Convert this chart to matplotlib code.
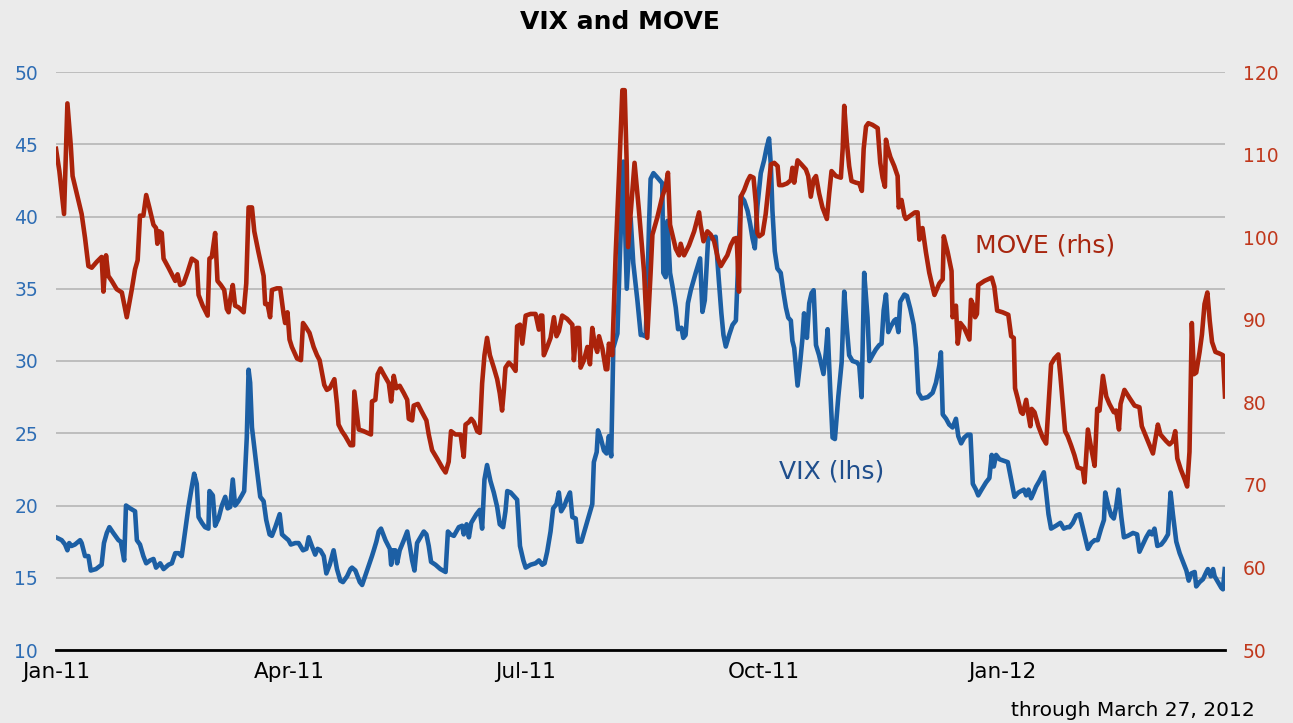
import numpy as np
import matplotlib
matplotlib.use('Agg')
import matplotlib.pyplot as plt
import matplotlib.dates as mdates
from datetime import datetime

plt.rcParams['font.family'] = ['DejaVu Sans']

# days since 2011-01-01
vix_days = [
    0.0, 2.2, 3.5, 4.4, 5.1, 6.0, 7.3, 9.3, 9.9, 11.2, 12.5, 13.4, 15.4, 17.6, 18.5,
    19.6, 20.6, 22.1, 24.1, 25.0, 26.3, 27.0, 28.6, 30.5, 31.2, 32.4, 33.7, 34.8, 36.3, 37.6,
    38.6, 40.2, 41.5, 43.4, 44.7, 46.0, 47.3, 48.5, 49.8, 51.1, 52.4, 53.3, 54.3, 55.0, 56.3,
    57.5, 58.8, 59.2, 60.5, 61.4, 62.7, 64.0, 65.3, 66.2, 67.2, 68.2, 69.1, 70.4, 71.7, 72.6,
    73.6, 74.3, 74.9, 75.6, 76.5, 77.5, 78.8, 80.1, 81.1, 82.4, 83.3, 84.6, 86.3, 87.2, 88.4,
    89.7, 90.6, 92.3, 93.6, 95.3, 96.6, 97.5, 98.7, 100.0, 100.9, 102.0, 103.3, 104.3, 105.6, 107.1,
    108.4, 109.7, 110.7, 112.3, 113.6,
    114.2, 115.5, 117.2, 118.1, 120.0, 121.9, 122.6, 123.6, 124.5, 125.4, 127.1, 128.8, 129.3, 130.0, 130.9,
    131.6, 132.6, 134.2, 135.5, 136.5, 137.4, 138.3, 139.3, 140.6, 141.9, 142.9, 143.8, 144.7, 146.4, 148.3,
    150.3, 151.2, 152.2, 153.5, 155.4, 156.7, 157.3, 158.4, 159.3, 160.2, 161.2, 162.2, 163.5, 164.4, 165.3,
    166.3, 167.6, 168.9, 170.2, 171.2, 172.5, 173.4, 174.1, 175.4, 177.9, 179.0, 180.3, 181.2, 183.1, 185.0,
    186.3, 187.6, 188.5, 189.5, 190.8, 191.8, 193.1, 194.0, 194.9, 196.2, 197.0, 198.3, 199.2, 200.5, 201.4,
    202.7, 204.3, 205.6, 206.9, 207.5, 208.6, 209.1, 210.1, 211.4, 212.4, 213.3, 214.2, 215.0, 216.6, 217.6,
    218.9, 220.2, 221.7, 222.7, 224.3, 225.6,
    226.2, 227.5, 228.1, 228.8, 229.4, 230.5, 232.0, 233.9, 234.3, 235.2, 235.9, 236.9, 237.8, 239.1, 240.0,
    241.3, 242.0, 242.9, 243.8, 244.9, 246.8, 248.5, 249.4, 250.3, 251.1, 251.6, 253.2, 254.5, 255.8, 256.7,
    257.5, 258.4, 259.7, 261.0, 262.3, 263.2, 264.2, 265.5, 266.8, 267.8, 268.7, 269.6, 270.6, 271.9, 273.2,
    274.2, 275.1, 275.8, 276.4, 277.3, 278.3, 279.6, 280.7, 281.6, 282.5, 283.5, 284.1, 284.8, 286.1, 287.1,
    288.0, 288.6, 289.7, 290.6, 291.5, 292.3, 293.2, 294.4, 295.3, 296.1, 297.0, 297.7, 298.7, 299.6, 300.5,
    301.8, 303.1, 304.1, 305.1, 306.0, 307.3, 309.0, 309.9, 310.8, 311.8, 313.1, 313.8, 315.0, 316.3, 317.6,
    318.5, 319.3, 320.2, 321.1, 322.1, 323.4, 324.1, 325.0, 325.7, 327.3, 328.3, 329.6, 330.9, 331.8, 332.7,
    334.0,
    336.3, 338.2, 339.5, 340.8, 341.4, 342.1, 343.4, 344.6, 345.9, 347.2, 348.1, 349.2, 350.4, 351.7, 352.8,
    353.7, 354.9, 355.8, 357.1, 358.8, 360.1, 361.0, 361.8, 362.7, 364.0, 365.6, 367.2, 368.5, 369.8, 371.3,
    372.3, 373.4, 374.3, 375.2, 376.2, 377.2, 378.1, 379.4, 381.1, 382.0, 382.9, 383.9, 385.8, 387.5, 388.8,
    390.1, 391.0, 392.3, 393.6, 394.9, 396.1, 397.0, 398.1, 399.4, 400.7, 401.9, 403.2, 404.3, 404.8, 405.8,
    407.1, 408.1, 409.0, 409.9, 411.0, 412.0, 413.5, 415.5, 417.1, 418.0, 419.3, 420.6, 421.9, 422.8, 423.8,
    424.9, 426.4, 427.7, 429.0, 430.0, 430.9, 432.2, 433.5, 434.8, 436.1, 437.0, 438.0, 439.3, 439.9, 441.2,
    442.5, 443.8, 444.4, 445.5, 446.4, 447.0, 448.3, 449.6, 450.2, 450.9,
]
vix = [
    17.8, 17.6, 17.3, 16.9, 17.4, 17.2, 17.3, 17.6, 17.4, 16.5, 16.5, 15.5, 15.6, 15.9, 17.4,
    18.1, 18.5, 18.1, 17.6, 17.5, 16.2, 20.0, 19.8, 19.6, 17.6, 17.3, 16.5, 16.0, 16.2, 16.3,
    15.7, 16.0, 15.6, 15.9, 16.0, 16.7, 16.7, 16.5, 18.2, 19.9, 21.3, 22.2, 21.5, 19.2, 18.8,
    18.5, 18.4, 21.0, 20.7, 18.6, 19.1, 20.0, 20.6, 19.8, 19.9, 21.8, 20.0, 20.3, 20.7, 21.0,
    24.7, 29.4, 28.5, 25.4, 24.0, 22.5, 20.6, 20.3, 19.0, 18.0, 17.9, 18.5, 19.4, 18.0, 17.8,
    17.6, 17.3, 17.4, 17.4, 16.9, 17.0, 17.8, 17.2, 16.6, 17.0, 16.9, 16.5, 15.3, 15.9, 16.9,
    15.6, 14.8, 14.7, 15.1, 15.6,
    15.7, 15.5, 14.7, 14.5, 15.5, 16.5, 16.9, 17.5, 18.2, 18.4, 17.6, 17.0, 15.9, 16.9, 16.9,
    16.0, 16.9, 17.6, 18.2, 17.2, 16.2, 15.5, 17.4, 17.8, 18.2, 18.0, 17.2, 16.1, 15.9, 15.6,
    15.4, 18.2, 18.0, 17.9, 18.5, 18.6, 18.0, 18.7, 17.8, 18.8, 19.1, 19.4, 19.7, 18.4, 21.8,
    22.8, 21.7, 20.9, 19.9, 18.7, 18.5, 19.6, 21.0, 20.9, 20.4, 17.2, 16.2, 15.7, 15.9, 16.0,
    16.2, 15.9, 16.0, 16.8, 18.2, 19.8, 20.1, 20.9, 19.6, 20.0, 20.4, 20.9, 19.2, 19.1, 17.5,
    17.5, 18.5, 19.3, 20.1, 23.0, 23.7, 25.2, 24.7, 23.8, 23.6, 24.8, 23.4, 30.9, 31.9, 37.6,
    43.8, 35.0, 39.9, 36.8, 34.2, 31.8,
    31.8, 31.7, 34.7, 39.5, 42.6, 43.0, 42.7, 42.3, 36.1, 35.8, 39.7, 36.1, 35.2, 33.7, 32.2,
    32.3, 31.6, 31.8, 34.0, 34.9, 36.1, 37.1, 33.4, 34.2, 36.8, 38.5, 38.5, 38.6, 35.4, 33.3,
    31.8, 31.0, 31.8, 32.5, 32.8, 36.8, 41.4, 41.1, 40.4, 39.5, 38.5, 37.8, 40.7, 43.0, 43.9,
    44.8, 45.4, 43.5, 40.4, 37.6, 36.4, 36.1, 34.7, 33.7, 33.0, 32.8, 31.4, 30.9, 28.3, 29.9,
    31.6, 33.3, 31.6, 34.0, 34.7, 34.9, 31.1, 30.4, 29.7, 29.1, 30.6, 32.2, 28.0, 24.7, 24.6,
    27.5, 29.9, 34.8, 32.3, 30.4, 30.0, 29.9, 29.7, 27.5, 36.1, 33.0, 30.0, 30.4, 30.8, 31.1,
    31.2, 33.5, 34.6, 32.0, 32.4, 32.8, 32.9, 32.0, 34.1, 34.6, 34.5, 33.6, 32.5, 30.9, 27.8,
    27.4,
    27.5, 27.8, 28.5, 29.7, 30.6, 26.3, 26.0, 25.6, 25.4, 26.0, 24.8, 24.3, 24.7, 24.9, 24.9,
    21.5, 21.1, 20.7, 21.1, 21.6, 21.9, 23.5, 22.7, 23.5, 23.2, 23.1, 23.0, 21.8, 20.6, 20.9,
    21.0, 21.1, 20.7, 21.1, 20.5, 20.9, 21.3, 21.7, 22.3, 20.9, 19.4, 18.4, 18.6, 18.8, 18.4,
    18.5, 18.5, 18.8, 19.3, 19.4, 18.5, 17.8, 17.0, 17.4, 17.6, 17.6, 18.4, 19.0, 20.9, 20.1,
    19.3, 19.1, 19.9, 21.1, 19.2, 17.8, 17.9, 18.1, 18.0, 16.8, 17.3, 17.8, 18.2, 18.0, 18.4,
    17.2, 17.3, 17.6, 18.0, 20.9, 19.4, 17.5, 16.7, 16.1, 15.5, 14.8, 15.3, 15.4, 14.4, 14.7,
    14.9, 15.4, 15.6, 15.1, 15.6, 15.1, 14.7, 14.3, 14.2, 15.6,
]

move_days = [
    0.0, 1.3, 3.1, 4.4, 5.7, 6.4, 8.0, 9.9, 11.2, 12.5, 13.8, 15.7, 17.6, 18.3, 19.3,
    20.2, 21.5, 23.4, 25.4, 27.3, 29.2, 30.5, 31.5, 32.4, 33.7, 34.8, 36.0, 37.6, 38.6, 39.1,
    39.9, 40.8, 41.5, 43.4, 44.7, 46.0, 46.9, 47.9, 49.2, 50.7, 52.4, 54.3, 55.0, 56.6, 58.5,
    59.2, 60.1, 61.4, 62.3, 63.6, 64.9, 65.9, 66.6, 67.2, 68.2, 69.1, 70.4, 72.4, 73.4, 74.3,
    75.6, 76.5, 78.1, 80.1, 80.7, 81.6, 82.6, 83.3, 85.2, 86.5, 87.8, 88.4, 89.3, 90.1, 91.0,
    93.0, 94.5, 95.3, 96.2, 97.8, 99.4, 100.7, 101.7, 102.6, 103.5, 104.5, 105.6, 107.4, 108.4, 109.0,
    110.3, 111.6, 113.6,
    114.6, 115.1, 116.8, 118.7, 121.5, 121.9, 123.2, 124.1, 125.2, 126.4, 128.4, 129.3, 130.3, 131.3, 132.6,
    134.2, 135.5, 136.1, 137.4, 138.0, 139.6, 141.2, 142.9, 143.8, 145.1, 147.0, 149.0, 150.3, 151.5, 152.4,
    154.1, 156.1, 157.3, 158.0, 159.3, 160.2, 161.2, 162.5, 163.5, 164.4, 165.3, 166.3, 167.4, 168.9, 170.2,
    171.2, 172.1, 172.8, 173.4, 174.7, 176.0, 177.3, 177.9, 179.0, 179.9, 181.2, 183.1, 185.0, 186.3, 187.0,
    187.6, 188.2, 189.5, 190.8, 192.1, 193.1, 194.0, 195.3, 197.2, 199.2, 199.8, 200.9, 201.8, 202.4, 203.7,
    205.0, 206.0, 206.9, 207.8, 208.8, 209.5, 210.8, 212.1, 212.7, 213.3, 214.6, 215.9, 217.2, 218.5, 219.4,
    220.2, 220.7,
    223.2, 224.9, 226.9, 228.1, 229.4, 230.1, 232.0, 233.9, 235.2, 236.1, 236.9, 237.8, 239.1, 240.4, 241.0,
    242.3, 244.2, 246.2, 248.1, 248.7, 249.8, 251.3, 252.6, 253.9, 255.4, 256.5, 257.8, 259.0, 260.3, 261.6,
    262.6, 263.5, 264.2, 265.5, 266.8, 267.8, 269.1, 270.0, 270.6, 271.3, 272.6, 273.8, 274.7, 275.8, 277.1,
    278.4, 279.0, 280.3, 282.0, 283.5, 284.1, 284.8, 286.1, 287.6, 289.3, 290.2, 291.2, 292.3, 293.2, 294.4,
    295.7, 297.4, 298.3, 299.2, 300.9, 302.8, 303.5, 304.1, 305.1, 306.0, 306.9, 308.6, 309.9, 310.9, 311.6,
    312.5, 313.4, 315.0, 317.0, 318.0, 318.9, 319.8, 320.2, 320.8, 321.9, 323.4, 324.7, 325.1, 326.2, 327.3,
    327.9, 329.6, 331.4, 332.4, 333.1,
    334.3, 335.6, 336.9, 338.9, 340.8, 342.1, 342.5, 344.0, 345.5, 345.9, 347.2, 347.9, 348.9, 350.4, 352.4,
    353.0, 353.7, 354.6, 355.3, 355.8, 358.2, 361.0, 362.0, 363.1, 365.2, 367.4, 368.5, 369.5, 370.0, 371.0,
    372.3, 373.0, 374.3, 375.2, 375.9, 376.4, 377.5, 379.0, 380.7, 382.0, 383.3, 383.9, 385.2, 386.7, 387.5,
    388.4, 389.3, 390.3, 391.6, 392.9, 394.2, 396.1, 396.8, 398.1, 399.4, 400.7, 401.7, 402.6, 403.9, 405.2,
    406.4, 408.1, 409.0, 410.1, 410.7, 412.2, 414.2, 416.1, 418.0, 418.9, 420.2, 421.9, 423.2, 425.1, 426.1,
    428.3, 429.6, 430.9, 431.8, 432.6, 433.9, 435.4, 436.4, 437.3, 438.2, 439.0, 439.9, 441.2, 442.1, 443.1,
    444.2, 445.1, 446.0, 447.3, 448.9, 450.2, 451.0,
]
move = [
    110.7, 108.0, 102.8, 116.2, 111.1, 107.4, 105.3, 102.8, 99.9, 96.5, 96.3, 97.0, 97.6, 93.4, 97.8,
    95.3, 94.7, 93.7, 93.3, 90.3, 93.6, 96.1, 97.2, 102.6, 102.6, 105.1, 103.6, 101.5, 101.1, 99.2,
    100.7, 100.5, 97.4, 96.3, 95.5, 94.7, 95.5, 94.2, 94.4, 95.7, 97.4, 97.0, 93.0, 91.7, 90.5,
    97.4, 97.6, 100.5, 94.7, 94.2, 93.6, 91.3, 90.9, 92.4, 94.2, 91.7, 91.5, 90.9, 94.4, 103.6,
    103.6, 100.7, 98.2, 95.3, 91.9, 91.9, 90.3, 93.6, 93.8, 93.8, 90.7, 89.6, 90.9, 87.6, 86.7,
    85.3, 85.1, 89.6, 89.2, 88.4, 86.7, 85.7, 85.1, 83.6, 82.1, 81.5, 81.7, 82.8, 79.8, 77.3,
    76.5, 75.9, 74.8,
    74.8, 81.3, 76.7, 76.5, 76.1, 80.1, 80.3, 83.4, 84.1, 83.4, 82.3, 80.1, 83.2, 81.7, 82.0,
    81.1, 80.3, 78.0, 77.8, 79.6, 79.8, 78.8, 77.8, 76.1, 74.2, 73.2, 72.1, 71.5, 72.8, 76.5,
    76.1, 76.1, 73.4, 77.3, 77.6, 78.0, 77.6, 76.5, 76.3, 82.3, 85.7, 87.8, 85.7, 84.2, 82.8,
    81.1, 79.0, 81.5, 84.2, 84.8, 84.4, 83.8, 89.2, 89.4, 87.1, 90.5, 90.7, 90.7, 88.8, 90.5,
    90.5, 85.7, 86.7, 87.8, 90.3, 88.0, 88.6, 90.5, 90.1, 89.4, 85.1, 89.0, 89.0, 84.2, 85.1,
    86.7, 84.6, 89.0, 87.1, 86.1, 88.0, 86.5, 84.0, 84.0, 87.1, 85.7, 97.8, 107.4, 117.8, 117.8,
    108.6, 98.8,
    109.0, 103.2, 95.7, 87.8, 95.7, 100.3, 102.4, 104.9, 106.1, 107.8, 101.5, 100.3, 98.6, 97.8, 99.2,
    97.8, 99.0, 100.7, 103.0, 101.5, 99.5, 100.7, 100.3, 99.5, 97.4, 96.5, 97.2, 97.8, 99.0, 99.8,
    99.9, 93.4, 104.9, 105.7, 106.8, 107.4, 107.2, 104.1, 100.5, 100.1, 100.4, 102.8, 105.5, 108.8, 109.0,
    108.6, 106.3, 106.3, 106.5, 106.9, 108.4, 106.6, 109.3, 108.8, 108.2, 107.4, 104.9, 107.0, 107.4, 105.3,
    103.6, 102.2, 105.3, 108.0, 107.4, 107.2, 110.7, 115.9, 111.5, 108.6, 106.8, 106.6, 106.5, 105.6, 110.7,
    113.4, 113.8, 113.6, 113.2, 109.0, 107.2, 106.1, 111.8, 110.9, 109.7, 108.6, 107.4, 103.6, 104.5, 102.6,
    102.2, 102.6, 103.0, 103.0, 99.7,
    101.1, 98.2, 95.7, 93.0, 94.4, 94.9, 100.1, 98.2, 95.9, 90.3, 91.7, 87.1, 89.6, 89.0, 87.6,
    92.4, 91.9, 90.3, 90.7, 94.2, 94.7, 95.1, 94.0, 91.1, 90.9, 90.6, 88.0, 87.8, 81.7, 80.5,
    78.8, 78.6, 80.3, 78.4, 77.1, 79.2, 78.8, 77.1, 75.7, 75.0, 81.7, 84.6, 85.3, 85.8, 83.2,
    79.8, 76.5, 75.9, 74.8, 73.6, 72.1, 71.9, 70.3, 76.7, 74.4, 72.3, 79.2, 79.0, 83.2, 80.7,
    79.8, 78.8, 79.0, 76.7, 79.8, 81.5, 80.5, 79.6, 79.4, 77.1, 76.1, 74.8, 73.8, 77.3, 76.1,
    75.3, 74.9, 75.3, 76.5, 73.2, 71.9, 70.7, 69.8, 74.0, 89.6, 83.4, 83.6, 86.1, 88.2, 91.9,
    93.3, 89.9, 87.3, 86.1, 85.9, 85.7, 80.7,
]

tick_dates = [datetime(2011, 1, 1), datetime(2011, 4, 1), datetime(2011, 7, 1),
              datetime(2011, 10, 1), datetime(2012, 1, 1)]
tick_labels = ['Jan-11', 'Apr-11', 'Jul-11', 'Oct-11', 'Jan-12']
last_day = 451  # March 27, 2012

start = mdates.date2num(datetime(2011, 1, 1))
x_vix = start + np.array(vix_days)
x_move = start + np.array(move_days)

fig = plt.figure(figsize=(12.93, 7.23), dpi=100, facecolor='#ebebeb')
ax = fig.add_axes([56 / 1293, 73 / 723, 1169 / 1293, 578 / 723])
ax.set_facecolor('none')

ax.plot(x_vix, vix, color='#1c5fa4', lw=3.3, solid_joinstyle='round', zorder=3)
ax.set_ylim(10, 50)
ax.set_yticks(range(10, 51, 5))
ax.set_xlim(start, start + last_day)
ax.set_xticks(mdates.date2num(tick_dates))
ax.set_xticklabels(tick_labels)
ax.grid(axis='y', color='#bdbdbd', lw=1.4)
ax.set_axisbelow(True)
for s in ['top', 'left', 'right']:
    ax.spines[s].set_visible(False)
ax.spines['bottom'].set_color('black')
ax.spines['bottom'].set_linewidth(2)
ax.tick_params(axis='y', length=0, pad=13, labelsize=13.5, labelcolor='#2e6db4')
ax.tick_params(axis='x', length=0, pad=9, labelsize=15.5, labelcolor='black')

ax2 = ax.twinx()
ax2.plot(x_move, move, color='#ab230b', lw=3.3, solid_joinstyle='round')
ax2.set_ylim(50, 120)
ax2.set_yticks(range(50, 121, 10))
for s in ['top', 'left', 'right', 'bottom']:
    ax2.spines[s].set_visible(False)
ax2.tick_params(axis='y', length=0, pad=13, labelsize=13.5, labelcolor='#c0381c')

fig.text(620 / 1293, 1 - 22 / 723, 'VIX and MOVE', ha='center', va='center',
         fontsize=18, fontweight='bold')
fig.text(1045 / 1293, 1 - 245 / 723, 'MOVE (rhs)', ha='center', va='center',
         fontsize=18, color='#a8260f')
fig.text(832 / 1293, 1 - 472 / 723, 'VIX (lhs)', ha='center', va='center',
         fontsize=18, color='#1f4e8c')
fig.text(1255 / 1293, 1 - 710 / 723, 'through March 27, 2012', ha='right', va='center',
         fontsize=14.5)

fig.savefig('out.png', dpi=100, facecolor=fig.get_facecolor())
